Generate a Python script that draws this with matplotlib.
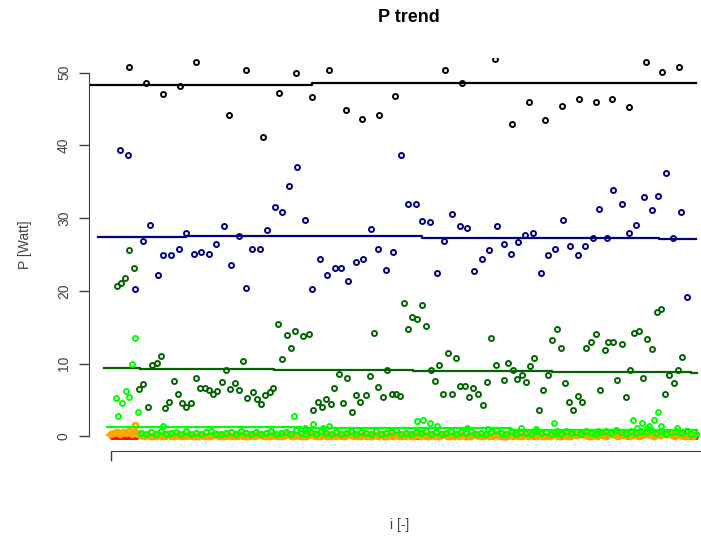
import numpy as np
import matplotlib.pyplot as plt

plt.rcParams['font.family'] = ['Liberation Sans', 'DejaVu Sans']

# P per sample index, one array pair per channel
black_i = [18, 35, 52, 69, 85, 118, 135, 152, 168, 185, 201, 218, 235, 251, 268, 284,
           334, 351, 384, 401, 418, 434, 451, 468, 485, 501, 518, 535, 551, 568]
black_p = [50.7, 48.6, 47.1, 48.2, 51.5, 44.1, 50.4, 41.2, 47.2, 49.9, 46.7, 50.3, 44.8, 43.6, 44.1, 46.8,
           50.4, 48.5, 51.8, 43.0, 46.0, 43.5, 45.4, 46.3, 45.9, 46.3, 45.3, 51.4, 50.1, 50.8]

navy_i = [9, 17, 24, 32, 39, 47, 52, 60, 68, 75, 83, 90, 98, 105, 113, 120, 128, 135, 141, 149,
          156, 164, 171, 178, 186, 194, 201, 209, 216, 224, 230, 237, 245, 252, 260, 267, 275, 282,
          290, 297, 305, 311, 319, 326, 333, 341, 349, 356, 363, 371, 378, 386, 393, 400, 407, 414,
          422, 430, 437, 444, 452, 459, 467, 474, 482, 488, 496, 502, 511, 518, 525, 533, 541, 547,
          555, 562, 570, 576, 584]
navy_p = [39.4, 38.7, 20.2, 26.8, 29.1, 22.2, 24.9, 24.9, 25.7, 27.9, 25.1, 25.3, 25.1, 26.4, 28.9,
          23.5, 27.6, 20.4, 25.8, 25.8, 28.3, 31.5, 30.8, 34.4, 37.0, 29.8, 20.3, 24.4, 22.2, 23.2,
          23.2, 21.3, 24.0, 24.4, 28.5, 25.7, 22.9, 25.4, 38.7, 32.0, 32.0, 29.6, 29.4, 22.5, 26.9,
          30.5, 28.9, 28.6, 22.7, 24.4, 25.6, 28.9, 26.4, 25.1, 26.7, 27.7, 28.0, 22.5, 24.9, 25.7,
          29.7, 26.1, 25.0, 26.1, 27.3, 31.2, 27.3, 33.8, 32.0, 27.9, 29.0, 32.9, 31.1, 33.0, 36.2,
          27.2, 30.8, 19.2, 0.0]

dgreen_i = [6, 10, 14, 18, 23, 28, 32, 37, 41, 46, 50, 54, 58, 63, 67, 71, 75, 80, 85, 89, 94, 98,
            102, 106, 111, 115, 119, 124, 128, 132, 136, 142, 146, 150, 154, 159, 162, 167, 171, 176,
            180, 184, 192, 198, 202, 207, 211, 215, 220, 223, 228, 232, 236, 241, 245, 249, 255, 259,
            263, 267, 272, 276, 281, 285, 289, 293, 297, 301, 306, 311, 315, 320, 324, 328, 332, 337,
            341, 345, 349, 354, 358, 362, 367, 372, 376, 380, 385, 393, 397, 402, 406, 411, 415, 419,
            423, 428, 432, 437, 441, 446, 450, 454, 458, 462, 467, 471, 475, 480, 485, 489, 494, 497,
            502, 506, 511, 515, 519, 523, 528, 532, 536, 541, 546, 550, 554, 558, 563, 567, 571, 576, 580]
dgreen_p = [20.7, 21.1, 21.8, 25.6, 23.2, 6.5, 7.2, 4.1, 9.8, 10.1, 11.0, 3.9, 4.7, 7.6, 5.9, 4.6,
            4.0, 4.6, 8.0, 6.6, 6.6, 6.4, 5.8, 6.2, 7.5, 9.1, 6.5, 7.3, 6.4, 10.4, 5.3, 6.1, 5.1, 4.4,
            5.7, 6.1, 6.6, 15.5, 10.6, 13.9, 12.2, 14.5, 13.8, 14.1, 3.6, 4.7, 4.0, 5.2, 4.4, 6.6, 8.6,
            4.6, 8.0, 3.3, 5.7, 4.7, 5.7, 8.3, 14.2, 6.8, 5.4, 9.1, 5.8, 5.8, 5.5, 18.4, 14.8, 16.4,
            16.2, 18.1, 15.2, 9.1, 7.6, 9.8, 5.9, 11.5, 5.9, 10.8, 6.9, 6.9, 5.4, 6.6, 5.8, 4.3, 7.5,
            13.5, 9.8, 7.7, 10.1, 9.1, 7.9, 8.4, 7.5, 9.7, 10.8, 3.7, 6.4, 8.4, 13.3, 14.8, 12.2, 7.3,
            4.7, 3.6, 5.5, 4.7, 12.2, 13.0, 14.1, 6.4, 11.9, 13.0, 13.0, 7.7, 12.7, 5.4, 9.1, 14.2,
            14.5, 8.0, 13.4, 12.0, 17.1, 17.5, 5.9, 8.4, 7.3, 9.1, 10.9, 0.7, 0.0]

# light green: raised samples plus the low band
lgreen_i = [5, 7, 11, 15, 18, 21, 24, 27, 52, 183, 194, 202, 212, 218, 306, 312, 319, 326, 356,
            377, 410, 425, 443, 446, 487, 522, 526, 531, 536, 538, 543, 547, 550, 566]
lgreen_p = [5.3, 2.8, 4.6, 6.3, 5.4, 9.9, 13.5, 3.3, 1.5, 2.8, 1.1, 1.7, 1.2, 1.5, 2.1, 2.2, 1.9,
            1.5, 1.1, 1.0, 1.1, 1.0, 1.9, 0.8, 0.8, 2.2, 1.2, 1.9, 1.1, 1.5, 2.2, 3.3, 1.5, 1.2]
band_i = np.arange(30, 586, 5)
band_p = [0.5, 0.3, 0.6, 0.4, 0.7, 0.3, 0.5, 0.6, 0.4, 0.8, 0.3, 0.5, 0.4, 0.6,
          0.7, 0.4, 0.3, 0.5, 0.6, 0.4, 0.8, 0.5, 0.3, 0.6, 0.4, 0.5, 0.7, 0.3,
          0.5, 0.6, 0.4, 0.9, 0.5, 0.3, 0.6, 0.4, 0.7, 0.5, 0.4, 0.6, 0.3, 0.5,
          0.8, 0.4, 0.6, 0.5, 0.3, 0.7, 0.4, 0.5, 0.6, 0.9, 0.4, 0.5, 0.3, 0.6,
          0.5, 0.7, 0.4, 0.6, 0.3, 0.5, 0.8, 0.4, 0.6, 0.5, 0.7, 0.3, 0.5, 0.4,
          0.6, 0.9, 0.5, 0.4, 0.7, 0.3, 0.6, 0.5, 0.4, 0.8, 0.5, 0.6, 0.3, 0.5,
          0.4, 0.7, 0.5, 0.6, 0.3, 0.8, 0.5, 0.4, 0.6, 0.7, 0.5, 0.9, 0.6, 0.4,
          0.8, 0.5, 0.7, 0.6, 0.9, 0.5, 0.7, 0.4, 0.6, 0.8, 0.5, 0.7, 0.4, 0.3]

orange_i = np.arange(0, 585, 3)
orange_p = [0.3, 0.5, 0.6, 0.4, 0.6, 0.5, 0.7, 0.4, 0.6, 0.3, 0.2, 0.1, 0.2, 0.1, 0.0,
            0.1, 0.2, 0.0, 0.1, 0.3, 0.1, 0.0, 0.2, 0.1, 0.0, 0.1, 0.2, 0.1, 0.0, 0.1,
            0.2, 0.1, 0.0, 0.1, 0.2, 0.3, 0.1, 0.0, 0.1, 0.2, 0.1, 0.1, 0.0, 0.2, 0.1,
            0.0, 0.1, 0.2, 0.1, 0.3, 0.2, 0.1, 0.0, 0.1, 0.2, 0.0, 0.1, 0.1, 0.2, 0.3,
            0.1, 0.0, 0.2, 0.1, 0.1, 0.0, 0.2, 0.3, 0.1, 0.0, 0.1, 0.2, 0.1, 0.0, 0.2,
            0.1, 0.2, 0.0, 0.1, 0.3, 0.2, 0.1, 0.1, 0.0, 0.2, 0.1, 0.0, 0.1, 0.2, 0.1,
            0.3, 0.1, 0.0, 0.2, 0.1, 0.2, 0.0, 0.1, 0.1, 0.2, 0.0, 0.1, 0.3, 0.1, 0.2,
            0.0, 0.1, 0.2, 0.1, 0.0, 0.2, 0.3, 0.1, 0.1, 0.0, 0.2, 0.1, 0.2, 0.0, 0.1,
            0.1, 0.3, 0.2, 0.0, 0.1, 0.2, 0.1, 0.0, 0.3, 0.2, 0.1, 0.1, 0.0, 0.2, 0.1,
            0.2, 0.0, 0.1, 0.3, 0.1, 0.2, 0.0, 0.1, 0.2, 0.1, 0.0, 0.1, 0.2, 0.3, 0.1,
            0.0, 0.2, 0.1, 0.1, 0.3, 0.2, 0.4, 0.3, 0.2, 0.1, 0.0, 0.2, 0.1, 0.3, 0.2,
            0.1, 0.4, 0.3, 0.2, 0.1, 0.3, 0.2, 0.4, 0.1, 0.2, 0.3, 0.1, 0.2, 0.4, 0.3,
            0.2, 0.1, 0.3, 0.2, 0.4, 0.3, 0.5, 0.2, 0.1, 0.3, 0.2, 0.1, 0.0, 0.2, 0.1]
orange_i = np.append(orange_i, 24)
orange_p = orange_p + [1.6]

red_i = [1, 4, 7, 10, 13, 16, 19, 22, 25, 306, 517, 584]
red_p = [0.0] * len(red_i)

# trend levels (step lines): segment edges and level per segment
black_edges, black_lvl = [-21, 201, 435, 585], [48.3, 48.5, 48.6]
navy_edges, navy_lvl = [-13, 75, 311, 548, 585], [27.4, 27.5, 27.25, 27.1]
dgreen_edges, dgreen_lvl = [-7, 29, 163, 302, 441, 580, 586], [9.43, 9.3, 9.15, 9.0, 8.8, 8.65]
lgreen_edges, lgreen_lvl = [-4, 190, 400, 586], [1.3, 1.1, 0.9]
orange_edges, orange_lvl = [-4, 586], [0.25]

fig = plt.figure(figsize=(7.01, 5.37), dpi=100)
ax = fig.add_axes([89 / 701, 86 / 537, 642 / 701, 393 / 537])


def circles(x, y, col, mew=1.4):
    ax.plot(x, y, 'o', ls='none', mfc='none', mec=col, ms=3.6, mew=mew)


def trend(edges, lvl, col):
    ax.step(edges, lvl + [lvl[-1]], where='post', color=col, lw=1.6)


circles(black_i, black_p, 'black')
trend(black_edges, black_lvl, 'black')
circles(navy_i, navy_p, '#000080')
trend(navy_edges, navy_lvl, '#000080')
circles(dgreen_i, dgreen_p, '#006400')
trend(dgreen_edges, dgreen_lvl, '#006400')
circles(red_i, red_p, '#ff0000')
circles(orange_i, orange_p, '#ffa500', mew=2.0)
trend(orange_edges, orange_lvl, '#ffa500')
circles(band_i, band_p, '#00ff00', mew=1.6)
circles(lgreen_i, lgreen_p, '#00ff00')
trend(lgreen_edges, lgreen_lvl, '#00ff00')

ax.set_xlim(-22, 620)
ax.set_ylim(-2, 52)

# R-like detached axes
ax.spines['top'].set_visible(False)
ax.spines['right'].set_visible(False)
ax.spines['left'].set_bounds(0, 50)
ax.spines['bottom'].set_bounds(0, 620)
for s in ['left', 'bottom']:
    ax.spines[s].set_color('#404040')
ax.set_yticks([0, 10, 20, 30, 40, 50])
ax.set_xticks([0])
ax.tick_params(axis='y', length=7, width=1, color='#404040', pad=6, labelsize=10, labelcolor='#404040')
ax.tick_params(axis='x', length=7, width=1, color='#404040', labelbottom=False)
plt.setp(ax.get_yticklabels(), rotation=90, va='center')

fig.text(409 / 701, 1 - 18 / 537, 'P trend', ha='center', va='center', fontsize=13, fontweight='bold')
fig.text(25 / 701, 1 - 245 / 537, 'P [Watt]', rotation=90, ha='center', va='center', fontsize=10, color='#404040')
fig.text(400 / 701, 1 - 525 / 537, 'i [-]', ha='center', va='center', fontsize=10, color='#404040')

fig.savefig('out.png', dpi=100)
